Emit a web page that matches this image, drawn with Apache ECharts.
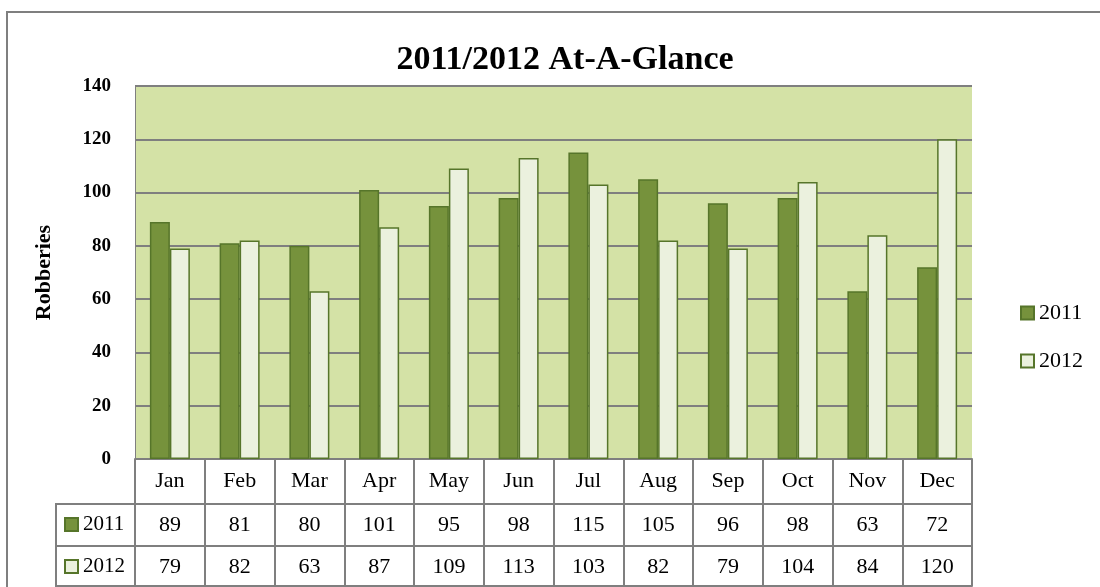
<!DOCTYPE html>
<html>
<head>
<meta charset="utf-8">
<title>2011/2012 At-A-Glance</title>
<script src="https://cdn.jsdelivr.net/npm/echarts@6/dist/echarts.min.js"></script>
<style>
  html, body { margin: 0; padding: 0; background: #fff; }
  #main { width: 1100px; height: 587px; }
</style>
</head>
<body>
<div id="main"></div>
<script type="text/javascript">
var months = ['Jan', 'Feb', 'Mar', 'Apr', 'May', 'Jun', 'Jul', 'Aug', 'Sep', 'Oct', 'Nov', 'Dec'];
var robberies2011 = [89, 81, 80, 101, 95, 98, 115, 105, 96, 98, 63, 72];
var robberies2012 = [79, 82, 63, 87, 109, 113, 103, 82, 79, 104, 84, 120];
var seriesNames = ['2011', '2012'];

var font = 'Liberation Serif';
var gray = '#7f7f7f';

var chart = echarts.init(document.getElementById('main'));

// table rows under the plot are built from extra category axes
function tableAxis(data, offset) {
    return {
        type: 'category',
        data: data.map(String),
        position: 'bottom',
        offset: offset,
        gridIndex: 0,
        axisLine: { show: true, lineStyle: { color: gray, width: 2 } },
        axisTick: { show: false },
        splitLine: { show: false },
        axisLabel: {
            show: true,
            fontFamily: font,
            fontSize: 22,
            color: '#000',
            verticalAlign: 'middle',
            margin: 21
        }
    };
}

chart.setOption({
    backgroundColor: '#fff',
    animation: false,
    title: {
        text: '2011/2012 At-A-Glance',
        left: 560,
        top: 38,
        textAlign: 'center',
        textStyle: { fontFamily: font, fontSize: 34, fontWeight: 'bold', color: '#000' }
    },
    legend: [{
        data: seriesNames,
        orient: 'vertical',
        left: 1020,
        top: 302,
        padding: 0,
        itemWidth: 13,
        itemHeight: 13,
        itemGap: 26,
        itemTextGap: 4,
        icon: 'rect',
        selectedMode: false,
        textStyle: { fontFamily: font, fontSize: 22, color: '#000' }
    }, {
        data: seriesNames,
        orient: 'vertical',
        left: 64,
        top: 514,
        padding: 0,
        itemWidth: 13,
        itemHeight: 13,
        itemGap: 21,
        itemTextGap: 3,
        icon: 'rect',
        selectedMode: false,
        textStyle: { fontFamily: font, fontSize: 21, color: '#000' }
    }],
    grid: {
        left: 135,
        top: 86,
        width: 837,
        height: 373,
        show: true,
        backgroundColor: '#d4e2a6',
        borderWidth: 0
    },
    xAxis: [{
        type: 'category',
        data: months,
        position: 'bottom',
        gridIndex: 0,
        axisLine: { show: true, lineStyle: { color: gray, width: 2 } },
        axisTick: { show: true, length: 127, lineStyle: { color: gray, width: 2 } },
        axisLabel: {
            fontFamily: font,
            fontSize: 22,
            color: '#000',
            verticalAlign: 'middle',
            margin: 22
        }
    },
    tableAxis(robberies2011, 45),
    tableAxis(robberies2012, 87),
    (function () {
        var a = tableAxis(months.map(function () { return ''; }), 127);
        a.axisLabel.show = false;
        return a;
    })()],
    yAxis: {
        type: 'value',
        min: 0,
        max: 140,
        interval: 20,
        name: 'Robberies',
        nameLocation: 'middle',
        nameGap: 80,
        nameRotate: 90,
        nameTextStyle: { fontFamily: font, fontSize: 22, fontWeight: 'bold', color: '#000' },
        axisLine: { show: true, lineStyle: { color: gray, width: 1 } },
        axisTick: { show: false },
        axisLabel: { fontFamily: font, fontSize: 19, fontWeight: 'bold', color: '#000', margin: 24 },
        splitLine: { show: true, lineStyle: { color: gray, width: 2 } }
    },
    series: [{
        name: seriesNames[0],
        type: 'bar',
        data: robberies2011,
        barWidth: 20,
        barGap: '0%',
        itemStyle: { color: '#76923c', borderColor: '#56752a', borderWidth: 1.5 }
    }, {
        name: seriesNames[1],
        type: 'bar',
        data: robberies2012,
        barWidth: 20,
        itemStyle: { color: '#ebf1de', borderColor: '#56752a', borderWidth: 1.5 }
    }],
    graphic: [{
        type: 'rect',
        shape: { x: 7, y: 12, width: 1120, height: 600 },
        style: { fill: 'none', stroke: gray, lineWidth: 2 },
        silent: true
    }, {
        type: 'rect',
        shape: { x: 56, y: 504, width: 79, height: 82 },
        style: { fill: 'none', stroke: gray, lineWidth: 2 },
        silent: true
    }, {
        type: 'line',
        shape: { x1: 56, y1: 546, x2: 135, y2: 546 },
        style: { stroke: gray, lineWidth: 2 },
        silent: true
    }]
});
</script>
</body>
</html>
